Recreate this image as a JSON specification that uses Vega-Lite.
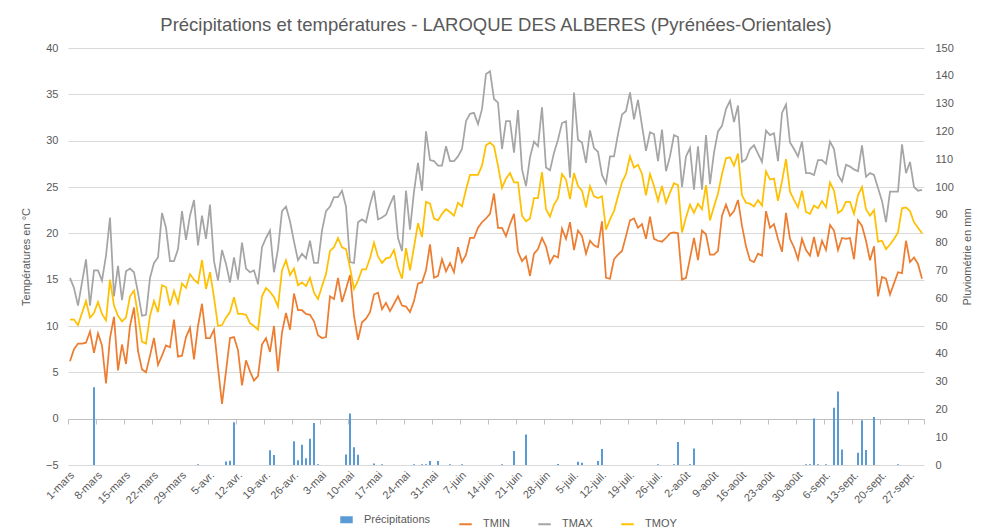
{
"$schema": "https://vega.github.io/schema/vega-lite/v6.json",
"width": 856, "height": 417,
"autosize": {"type": "none"},
"padding": {"left": 68, "top": 48, "right": 66, "bottom": 67},
"background": "white",
"title": {"text": "Précipitations et températures - LAROQUE DES ALBERES (Pyrénées-Orientales)", "fontSize": 18.5, "font": "Liberation Sans", "fontWeight": "normal", "color": "#595959", "offset": 8, "anchor": "middle"},
"config": {"font": "Liberation Sans", "view": {"stroke": null}, "axis": {"labelColor": "#595959", "titleColor": "#595959", "labelFontSize": 11, "titleFontSize": 11, "titleFontWeight": "normal", "labelFont": "Liberation Sans", "titleFont": "Liberation Sans"}, "legend": {"labelColor": "#595959", "labelFontSize": 11, "labelFont": "Liberation Sans"}},
"data": {"values": [
{"date":"2023-03-01","TMIN":6.2,"TMAX":15.2,"TMOY":10.7,"P":0},
{"date":"2023-03-02","TMIN":7.5,"TMAX":14.1,"TMOY":10.7,"P":0},
{"date":"2023-03-03","TMIN":8.1,"TMAX":12.2,"TMOY":10.1,"P":0},
{"date":"2023-03-04","TMIN":8.1,"TMAX":14.7,"TMOY":11.4,"P":0},
{"date":"2023-03-05","TMIN":8.2,"TMAX":17.2,"TMOY":12.7,"P":0},
{"date":"2023-03-06","TMIN":9.4,"TMAX":12.2,"TMOY":10.9,"P":0},
{"date":"2023-03-07","TMIN":7.1,"TMAX":16.0,"TMOY":11.4,"P":28},
{"date":"2023-03-08","TMIN":9.2,"TMAX":16.0,"TMOY":12.6,"P":0},
{"date":"2023-03-09","TMIN":7.9,"TMAX":14.9,"TMOY":11.3,"P":0},
{"date":"2023-03-10","TMIN":3.8,"TMAX":17.6,"TMOY":10.6,"P":0},
{"date":"2023-03-11","TMIN":8.7,"TMAX":21.7,"TMOY":15.0,"P":0},
{"date":"2023-03-12","TMIN":11.0,"TMAX":13.2,"TMOY":12.2,"P":0},
{"date":"2023-03-13","TMIN":5.2,"TMAX":16.5,"TMOY":11.1,"P":0},
{"date":"2023-03-14","TMIN":8.0,"TMAX":12.8,"TMOY":10.5,"P":0},
{"date":"2023-03-15","TMIN":5.9,"TMAX":15.9,"TMOY":10.9,"P":0},
{"date":"2023-03-16","TMIN":10.0,"TMAX":16.2,"TMOY":13.2,"P":0},
{"date":"2023-03-17","TMIN":12.0,"TMAX":15.8,"TMOY":13.8,"P":0},
{"date":"2023-03-18","TMIN":7.3,"TMAX":13.6,"TMOY":11.2,"P":0},
{"date":"2023-03-19","TMIN":5.3,"TMAX":11.1,"TMOY":8.3,"P":0},
{"date":"2023-03-20","TMIN":5.0,"TMAX":11.2,"TMOY":8.1,"P":0},
{"date":"2023-03-21","TMIN":6.8,"TMAX":15.2,"TMOY":11.1,"P":0},
{"date":"2023-03-22","TMIN":8.7,"TMAX":16.8,"TMOY":12.7,"P":0},
{"date":"2023-03-23","TMIN":5.8,"TMAX":17.4,"TMOY":11.5,"P":0},
{"date":"2023-03-24","TMIN":6.8,"TMAX":22.2,"TMOY":14.4,"P":0},
{"date":"2023-03-25","TMIN":7.9,"TMAX":20.6,"TMOY":14.2,"P":0},
{"date":"2023-03-26","TMIN":7.7,"TMAX":17.0,"TMOY":12.2,"P":0},
{"date":"2023-03-27","TMIN":10.7,"TMAX":17.0,"TMOY":13.8,"P":0},
{"date":"2023-03-28","TMIN":6.7,"TMAX":18.3,"TMOY":12.5,"P":0},
{"date":"2023-03-29","TMIN":6.8,"TMAX":22.4,"TMOY":14.6,"P":0},
{"date":"2023-03-30","TMIN":8.8,"TMAX":19.3,"TMOY":14.1,"P":0},
{"date":"2023-03-31","TMIN":9.8,"TMAX":21.9,"TMOY":15.6,"P":0},
{"date":"2023-04-01","TMIN":6.4,"TMAX":23.6,"TMOY":15.0,"P":0},
{"date":"2023-04-02","TMIN":10.0,"TMAX":18.7,"TMOY":14.6,"P":0.3},
{"date":"2023-04-03","TMIN":12.4,"TMAX":21.9,"TMOY":17.1,"P":0},
{"date":"2023-04-04","TMIN":8.7,"TMAX":19.4,"TMOY":14.0,"P":0},
{"date":"2023-04-05","TMIN":8.7,"TMAX":23.1,"TMOY":15.8,"P":0},
{"date":"2023-04-06","TMIN":9.6,"TMAX":17.0,"TMOY":13.1,"P":0},
{"date":"2023-04-07","TMIN":5.5,"TMAX":14.9,"TMOY":10.0,"P":0},
{"date":"2023-04-08","TMIN":1.6,"TMAX":18.2,"TMOY":10.1,"P":0},
{"date":"2023-04-09","TMIN":5.1,"TMAX":16.7,"TMOY":10.9,"P":1.3},
{"date":"2023-04-10","TMIN":8.7,"TMAX":14.7,"TMOY":11.5,"P":1.5},
{"date":"2023-04-11","TMIN":8.8,"TMAX":17.4,"TMOY":13.1,"P":15.4},
{"date":"2023-04-12","TMIN":7.4,"TMAX":15.0,"TMOY":11.3,"P":0},
{"date":"2023-04-13","TMIN":3.6,"TMAX":19.0,"TMOY":11.3,"P":0},
{"date":"2023-04-14","TMIN":6.3,"TMAX":16.2,"TMOY":11.2,"P":0},
{"date":"2023-04-15","TMIN":5.1,"TMAX":15.8,"TMOY":10.3,"P":0},
{"date":"2023-04-16","TMIN":4.1,"TMAX":16.0,"TMOY":10.0,"P":0},
{"date":"2023-04-17","TMIN":4.6,"TMAX":14.5,"TMOY":9.6,"P":0},
{"date":"2023-04-18","TMIN":8.0,"TMAX":18.5,"TMOY":13.2,"P":0},
{"date":"2023-04-19","TMIN":8.7,"TMAX":19.5,"TMOY":14.1,"P":0},
{"date":"2023-04-20","TMIN":7.2,"TMAX":20.3,"TMOY":13.7,"P":5.3},
{"date":"2023-04-21","TMIN":10.0,"TMAX":15.8,"TMOY":13.1,"P":3.6},
{"date":"2023-04-22","TMIN":5.1,"TMAX":18.3,"TMOY":12.1,"P":0},
{"date":"2023-04-23","TMIN":9.3,"TMAX":22.4,"TMOY":16.0,"P":0},
{"date":"2023-04-24","TMIN":11.4,"TMAX":22.9,"TMOY":17.1,"P":0},
{"date":"2023-04-25","TMIN":9.6,"TMAX":21.3,"TMOY":15.5,"P":0},
{"date":"2023-04-26","TMIN":13.5,"TMAX":19.1,"TMOY":16.2,"P":8.5},
{"date":"2023-04-27","TMIN":11.7,"TMAX":17.1,"TMOY":14.4,"P":1.7},
{"date":"2023-04-28","TMIN":11.7,"TMAX":17.8,"TMOY":14.7,"P":7.3},
{"date":"2023-04-29","TMIN":11.3,"TMAX":17.3,"TMOY":14.3,"P":2.4},
{"date":"2023-04-30","TMIN":11.2,"TMAX":19.2,"TMOY":15.2,"P":9.4},
{"date":"2023-05-01","TMIN":10.5,"TMAX":16.8,"TMOY":13.6,"P":15.1},
{"date":"2023-05-02","TMIN":9.0,"TMAX":16.8,"TMOY":12.9,"P":0.3},
{"date":"2023-05-03","TMIN":8.7,"TMAX":20.3,"TMOY":14.3,"P":0},
{"date":"2023-05-04","TMIN":8.8,"TMAX":22.4,"TMOY":15.6,"P":0},
{"date":"2023-05-05","TMIN":13.2,"TMAX":22.9,"TMOY":18.1,"P":0},
{"date":"2023-05-06","TMIN":12.9,"TMAX":23.9,"TMOY":18.5,"P":0},
{"date":"2023-05-07","TMIN":15.2,"TMAX":23.9,"TMOY":19.5,"P":0},
{"date":"2023-05-08","TMIN":12.6,"TMAX":24.6,"TMOY":18.5,"P":0},
{"date":"2023-05-09","TMIN":14.0,"TMAX":22.9,"TMOY":18.3,"P":3.8},
{"date":"2023-05-10","TMIN":15.5,"TMAX":16.9,"TMOY":16.3,"P":18.5},
{"date":"2023-05-11","TMIN":11.1,"TMAX":16.8,"TMOY":14.0,"P":6.4},
{"date":"2023-05-12","TMIN":8.5,"TMAX":21.2,"TMOY":14.9,"P":3.7},
{"date":"2023-05-13","TMIN":10.4,"TMAX":21.5,"TMOY":16.1,"P":0},
{"date":"2023-05-14","TMIN":10.8,"TMAX":21.2,"TMOY":16.1,"P":0},
{"date":"2023-05-15","TMIN":11.5,"TMAX":23.1,"TMOY":17.3,"P":0},
{"date":"2023-05-16","TMIN":13.4,"TMAX":24.6,"TMOY":19.0,"P":0.5},
{"date":"2023-05-17","TMIN":13.6,"TMAX":21.5,"TMOY":17.5,"P":0},
{"date":"2023-05-18","TMIN":11.8,"TMAX":21.7,"TMOY":16.8,"P":0.3},
{"date":"2023-05-19","TMIN":12.5,"TMAX":22.0,"TMOY":17.3,"P":0},
{"date":"2023-05-20","TMIN":11.6,"TMAX":23.1,"TMOY":17.4,"P":0},
{"date":"2023-05-21","TMIN":12.4,"TMAX":24.1,"TMOY":18.2,"P":0},
{"date":"2023-05-22","TMIN":13.2,"TMAX":19.5,"TMOY":16.3,"P":0},
{"date":"2023-05-23","TMIN":12.2,"TMAX":18.1,"TMOY":15.1,"P":0},
{"date":"2023-05-24","TMIN":12.1,"TMAX":24.6,"TMOY":18.4,"P":0},
{"date":"2023-05-25","TMIN":11.5,"TMAX":20.4,"TMOY":16.0,"P":0},
{"date":"2023-05-26","TMIN":12.7,"TMAX":24.5,"TMOY":18.5,"P":0.3},
{"date":"2023-05-27","TMIN":14.6,"TMAX":27.6,"TMOY":21.1,"P":0},
{"date":"2023-05-28","TMIN":14.7,"TMAX":24.6,"TMOY":19.6,"P":0.3},
{"date":"2023-05-29","TMIN":16.0,"TMAX":31.0,"TMOY":23.4,"P":0.3},
{"date":"2023-05-30","TMIN":18.8,"TMAX":27.9,"TMOY":23.2,"P":1.4},
{"date":"2023-05-31","TMIN":15.2,"TMAX":27.8,"TMOY":21.6,"P":0},
{"date":"2023-06-01","TMIN":15.4,"TMAX":27.3,"TMOY":21.4,"P":1.4},
{"date":"2023-06-02","TMIN":17.2,"TMAX":27.3,"TMOY":22.1,"P":0},
{"date":"2023-06-03","TMIN":15.9,"TMAX":29.4,"TMOY":22.6,"P":0},
{"date":"2023-06-04","TMIN":16.8,"TMAX":27.8,"TMOY":22.3,"P":0.3},
{"date":"2023-06-05","TMIN":15.8,"TMAX":27.8,"TMOY":21.9,"P":0},
{"date":"2023-06-06","TMIN":18.5,"TMAX":28.3,"TMOY":23.3,"P":0},
{"date":"2023-06-07","TMIN":16.9,"TMAX":29.1,"TMOY":22.9,"P":0.3},
{"date":"2023-06-08","TMIN":17.7,"TMAX":32.1,"TMOY":24.7,"P":0},
{"date":"2023-06-09","TMIN":19.5,"TMAX":32.9,"TMOY":26.3,"P":0},
{"date":"2023-06-10","TMIN":19.5,"TMAX":33.0,"TMOY":26.3,"P":0},
{"date":"2023-06-11","TMIN":20.6,"TMAX":31.8,"TMOY":26.3,"P":0},
{"date":"2023-06-12","TMIN":21.2,"TMAX":33.4,"TMOY":27.3,"P":0},
{"date":"2023-06-13","TMIN":21.6,"TMAX":37.2,"TMOY":29.5,"P":0},
{"date":"2023-06-14","TMIN":22.1,"TMAX":37.5,"TMOY":29.8,"P":0},
{"date":"2023-06-15","TMIN":24.3,"TMAX":34.5,"TMOY":29.4,"P":0},
{"date":"2023-06-16","TMIN":20.6,"TMAX":34.1,"TMOY":27.3,"P":0},
{"date":"2023-06-17","TMIN":20.6,"TMAX":29.1,"TMOY":24.9,"P":0.3},
{"date":"2023-06-18","TMIN":19.7,"TMAX":32.1,"TMOY":25.9,"P":0},
{"date":"2023-06-19","TMIN":21.0,"TMAX":32.1,"TMOY":26.5,"P":0},
{"date":"2023-06-20","TMIN":22.1,"TMAX":28.7,"TMOY":25.5,"P":5.0},
{"date":"2023-06-21","TMIN":18.0,"TMAX":33.3,"TMOY":25.5,"P":0},
{"date":"2023-06-22","TMIN":17.0,"TMAX":26.9,"TMOY":21.9,"P":0},
{"date":"2023-06-23","TMIN":17.5,"TMAX":25.1,"TMOY":21.3,"P":11.0},
{"date":"2023-06-24","TMIN":15.4,"TMAX":28.2,"TMOY":21.6,"P":0},
{"date":"2023-06-25","TMIN":17.8,"TMAX":29.9,"TMOY":23.8,"P":0},
{"date":"2023-06-26","TMIN":18.3,"TMAX":29.4,"TMOY":23.8,"P":0},
{"date":"2023-06-27","TMIN":19.5,"TMAX":33.6,"TMOY":26.6,"P":0},
{"date":"2023-06-28","TMIN":18.6,"TMAX":27.1,"TMOY":22.6,"P":0},
{"date":"2023-06-29","TMIN":16.8,"TMAX":26.8,"TMOY":21.8,"P":0},
{"date":"2023-06-30","TMIN":17.6,"TMAX":28.7,"TMOY":23.1,"P":0},
{"date":"2023-07-01","TMIN":17.4,"TMAX":30.1,"TMOY":23.8,"P":0.4},
{"date":"2023-07-02","TMIN":20.5,"TMAX":31.9,"TMOY":26.4,"P":0},
{"date":"2023-07-03","TMIN":19.4,"TMAX":32.1,"TMOY":25.8,"P":0},
{"date":"2023-07-04","TMIN":21.2,"TMAX":26.0,"TMOY":23.7,"P":0},
{"date":"2023-07-05","TMIN":18.2,"TMAX":35.2,"TMOY":26.5,"P":0},
{"date":"2023-07-06","TMIN":20.3,"TMAX":30.1,"TMOY":25.1,"P":1.2},
{"date":"2023-07-07","TMIN":19.7,"TMAX":29.8,"TMOY":24.6,"P":0.8},
{"date":"2023-07-08","TMIN":17.8,"TMAX":27.6,"TMOY":22.8,"P":0},
{"date":"2023-07-09","TMIN":19.2,"TMAX":31.1,"TMOY":25.1,"P":0},
{"date":"2023-07-10","TMIN":18.7,"TMAX":29.2,"TMOY":24.0,"P":0},
{"date":"2023-07-11","TMIN":18.5,"TMAX":28.8,"TMOY":23.8,"P":1.4},
{"date":"2023-07-12","TMIN":21.3,"TMAX":26.3,"TMOY":24.0,"P":5.8},
{"date":"2023-07-13","TMIN":15.2,"TMAX":25.4,"TMOY":20.4,"P":0},
{"date":"2023-07-14","TMIN":15.1,"TMAX":28.3,"TMOY":21.5,"P":0},
{"date":"2023-07-15","TMIN":17.2,"TMAX":28.3,"TMOY":22.4,"P":0},
{"date":"2023-07-16","TMIN":17.7,"TMAX":30.7,"TMOY":24.0,"P":0},
{"date":"2023-07-17","TMIN":18.1,"TMAX":32.8,"TMOY":25.5,"P":0},
{"date":"2023-07-18","TMIN":19.7,"TMAX":33.2,"TMOY":26.4,"P":0},
{"date":"2023-07-19","TMIN":21.4,"TMAX":35.2,"TMOY":28.3,"P":0},
{"date":"2023-07-20","TMIN":21.6,"TMAX":32.3,"TMOY":27.1,"P":0},
{"date":"2023-07-21","TMIN":20.6,"TMAX":34.4,"TMOY":27.4,"P":0},
{"date":"2023-07-22","TMIN":21.0,"TMAX":31.6,"TMOY":26.4,"P":0},
{"date":"2023-07-23","TMIN":19.4,"TMAX":28.9,"TMOY":24.1,"P":0},
{"date":"2023-07-24","TMIN":21.8,"TMAX":30.9,"TMOY":26.4,"P":0},
{"date":"2023-07-25","TMIN":19.4,"TMAX":30.7,"TMOY":25.1,"P":0},
{"date":"2023-07-26","TMIN":19.2,"TMAX":27.8,"TMOY":23.5,"P":0.3},
{"date":"2023-07-27","TMIN":19.1,"TMAX":31.2,"TMOY":25.1,"P":0},
{"date":"2023-07-28","TMIN":19.5,"TMAX":26.7,"TMOY":23.3,"P":0},
{"date":"2023-07-29","TMIN":20.0,"TMAX":28.3,"TMOY":24.4,"P":0},
{"date":"2023-07-30","TMIN":20.1,"TMAX":30.6,"TMOY":25.4,"P":0.3},
{"date":"2023-07-31","TMIN":20.0,"TMAX":30.4,"TMOY":25.2,"P":8.3},
{"date":"2023-08-01","TMIN":15.0,"TMAX":25.0,"TMOY":20.1,"P":0},
{"date":"2023-08-02","TMIN":15.2,"TMAX":28.3,"TMOY":21.7,"P":0},
{"date":"2023-08-03","TMIN":17.3,"TMAX":29.2,"TMOY":23.1,"P":0.3},
{"date":"2023-08-04","TMIN":19.5,"TMAX":24.7,"TMOY":22.2,"P":5.9},
{"date":"2023-08-05","TMIN":17.1,"TMAX":29.4,"TMOY":23.2,"P":0},
{"date":"2023-08-06","TMIN":20.3,"TMAX":24.7,"TMOY":22.6,"P":0},
{"date":"2023-08-07","TMIN":19.9,"TMAX":30.6,"TMOY":25.2,"P":0},
{"date":"2023-08-08","TMIN":17.7,"TMAX":25.3,"TMOY":21.4,"P":0},
{"date":"2023-08-09","TMIN":17.7,"TMAX":28.7,"TMOY":22.9,"P":0},
{"date":"2023-08-10","TMIN":18.1,"TMAX":31.0,"TMOY":24.3,"P":0},
{"date":"2023-08-11","TMIN":21.9,"TMAX":31.6,"TMOY":26.4,"P":0},
{"date":"2023-08-12","TMIN":23.1,"TMAX":33.4,"TMOY":28.1,"P":0},
{"date":"2023-08-13","TMIN":21.9,"TMAX":34.3,"TMOY":28.2,"P":0},
{"date":"2023-08-14","TMIN":22.4,"TMAX":32.0,"TMOY":27.3,"P":0},
{"date":"2023-08-15","TMIN":23.6,"TMAX":33.8,"TMOY":28.6,"P":0},
{"date":"2023-08-16","TMIN":20.8,"TMAX":27.7,"TMOY":24.1,"P":0},
{"date":"2023-08-17","TMIN":18.6,"TMAX":28.0,"TMOY":23.3,"P":0},
{"date":"2023-08-18","TMIN":17.1,"TMAX":29.1,"TMOY":23.2,"P":0},
{"date":"2023-08-19","TMIN":16.9,"TMAX":29.5,"TMOY":22.9,"P":0},
{"date":"2023-08-20","TMIN":17.8,"TMAX":28.6,"TMOY":23.6,"P":0},
{"date":"2023-08-21","TMIN":17.6,"TMAX":27.7,"TMOY":23.0,"P":0},
{"date":"2023-08-22","TMIN":22.4,"TMAX":31.1,"TMOY":26.7,"P":0},
{"date":"2023-08-23","TMIN":20.6,"TMAX":30.6,"TMOY":25.8,"P":0},
{"date":"2023-08-24","TMIN":21.0,"TMAX":30.8,"TMOY":25.9,"P":0},
{"date":"2023-08-25","TMIN":19.4,"TMAX":27.8,"TMOY":23.5,"P":0},
{"date":"2023-08-26","TMIN":18.0,"TMAX":33.0,"TMOY":25.6,"P":0},
{"date":"2023-08-27","TMIN":22.2,"TMAX":33.9,"TMOY":28.0,"P":0},
{"date":"2023-08-28","TMIN":19.4,"TMAX":29.8,"TMOY":24.5,"P":0},
{"date":"2023-08-29","TMIN":18.5,"TMAX":29.1,"TMOY":23.6,"P":0},
{"date":"2023-08-30","TMIN":17.2,"TMAX":28.3,"TMOY":22.8,"P":0},
{"date":"2023-08-31","TMIN":19.4,"TMAX":29.9,"TMOY":24.6,"P":0},
{"date":"2023-09-01","TMIN":18.2,"TMAX":26.5,"TMOY":22.3,"P":0.3},
{"date":"2023-09-02","TMIN":17.6,"TMAX":26.5,"TMOY":22.1,"P":0.3},
{"date":"2023-09-03","TMIN":19.6,"TMAX":26.3,"TMOY":23.0,"P":16.7},
{"date":"2023-09-04","TMIN":17.5,"TMAX":27.9,"TMOY":22.7,"P":0.3},
{"date":"2023-09-05","TMIN":19.2,"TMAX":27.9,"TMOY":23.5,"P":0},
{"date":"2023-09-06","TMIN":18.2,"TMAX":27.5,"TMOY":22.8,"P":0.3},
{"date":"2023-09-07","TMIN":20.9,"TMAX":29.9,"TMOY":25.5,"P":0},
{"date":"2023-09-08","TMIN":20.3,"TMAX":29.1,"TMOY":24.6,"P":20.6},
{"date":"2023-09-09","TMIN":18.2,"TMAX":26.3,"TMOY":22.2,"P":26.4},
{"date":"2023-09-10","TMIN":19.5,"TMAX":25.6,"TMOY":22.5,"P":5.6},
{"date":"2023-09-11","TMIN":19.4,"TMAX":27.4,"TMOY":23.4,"P":0},
{"date":"2023-09-12","TMIN":19.5,"TMAX":27.2,"TMOY":23.4,"P":0},
{"date":"2023-09-13","TMIN":17.2,"TMAX":26.9,"TMOY":22.1,"P":0},
{"date":"2023-09-14","TMIN":21.4,"TMAX":26.7,"TMOY":24.1,"P":4.4},
{"date":"2023-09-15","TMIN":20.8,"TMAX":29.5,"TMOY":25.0,"P":16.1},
{"date":"2023-09-16","TMIN":19.2,"TMAX":26.1,"TMOY":22.6,"P":5.4},
{"date":"2023-09-17","TMIN":17.1,"TMAX":26.5,"TMOY":21.9,"P":0},
{"date":"2023-09-18","TMIN":18.6,"TMAX":26.3,"TMOY":22.5,"P":17.3},
{"date":"2023-09-19","TMIN":13.2,"TMAX":24.9,"TMOY":19.1,"P":0},
{"date":"2023-09-20","TMIN":15.3,"TMAX":23.5,"TMOY":19.2,"P":0},
{"date":"2023-09-21","TMIN":15.1,"TMAX":21.2,"TMOY":18.3,"P":0},
{"date":"2023-09-22","TMIN":13.4,"TMAX":24.5,"TMOY":18.8,"P":0},
{"date":"2023-09-23","TMIN":14.6,"TMAX":24.5,"TMOY":19.4,"P":0},
{"date":"2023-09-24","TMIN":15.8,"TMAX":24.5,"TMOY":20.1,"P":0.3},
{"date":"2023-09-25","TMIN":15.7,"TMAX":29.6,"TMOY":22.7,"P":0},
{"date":"2023-09-26","TMIN":19.2,"TMAX":26.5,"TMOY":22.8,"P":0},
{"date":"2023-09-27","TMIN":16.9,"TMAX":27.7,"TMOY":22.4,"P":0},
{"date":"2023-09-28","TMIN":17.4,"TMAX":25.0,"TMOY":21.2,"P":0},
{"date":"2023-09-29","TMIN":16.7,"TMAX":24.6,"TMOY":20.6,"P":0},
{"date":"2023-09-30","TMIN":15.1,"TMAX":24.7,"TMOY":20.0,"P":0}
]},
"layer": [
{
"transform": [{"fold": ["P"], "as": ["serie", "pval"]}, {"filter": "datum.pval > 0"}],
"mark": {"type": "rule", "strokeWidth": 2},
"encoding": {
"x": {"field": "date", "type": "temporal", "timeUnit": "utcyearmonthdate", "bandPosition": 0.5,
"scale": {"type": "utc", "domain": [{"year": 2023, "month": 3, "date": 1, "utc": true}, {"year": 2023, "month": 10, "date": 1, "utc": true}]},
"axis": {"orient": "bottom", "offset": -46, "labels": false, "title": null, "grid": false, "domain": true, "domainColor": "#bfbfbf", "ticks": true, "tickColor": "#bfbfbf", "tickSize": 5,
"values": [{"year":2023,"month":3,"date":1,"utc":true},{"year":2023,"month":3,"date":8,"utc":true},{"year":2023,"month":3,"date":15,"utc":true},{"year":2023,"month":3,"date":22,"utc":true},{"year":2023,"month":3,"date":29,"utc":true},{"year":2023,"month":4,"date":5,"utc":true},{"year":2023,"month":4,"date":12,"utc":true},{"year":2023,"month":4,"date":19,"utc":true},{"year":2023,"month":4,"date":26,"utc":true},{"year":2023,"month":5,"date":3,"utc":true},{"year":2023,"month":5,"date":10,"utc":true},{"year":2023,"month":5,"date":17,"utc":true},{"year":2023,"month":5,"date":24,"utc":true},{"year":2023,"month":5,"date":31,"utc":true},{"year":2023,"month":6,"date":7,"utc":true},{"year":2023,"month":6,"date":14,"utc":true},{"year":2023,"month":6,"date":21,"utc":true},{"year":2023,"month":6,"date":28,"utc":true},{"year":2023,"month":7,"date":5,"utc":true},{"year":2023,"month":7,"date":12,"utc":true},{"year":2023,"month":7,"date":19,"utc":true},{"year":2023,"month":7,"date":26,"utc":true},{"year":2023,"month":8,"date":2,"utc":true},{"year":2023,"month":8,"date":9,"utc":true},{"year":2023,"month":8,"date":16,"utc":true},{"year":2023,"month":8,"date":23,"utc":true},{"year":2023,"month":8,"date":30,"utc":true},{"year":2023,"month":9,"date":6,"utc":true},{"year":2023,"month":9,"date":13,"utc":true},{"year":2023,"month":9,"date":20,"utc":true},{"year":2023,"month":9,"date":27,"utc":true},{"year":2023,"month":10,"date":1,"utc":true}]}},
"y": {"field": "pval", "type": "quantitative", "scale": {"domain": [0, 150]},
"axis": {"orient": "right", "title": "Pluviométrie en mm", "titleAngle": -90, "values": [0,10,20,30,40,50,60,70,80,90,100,110,120,130,140,150], "grid": false, "domain": false, "ticks": false, "labelPadding": 11, "titlePadding": 19}},
"y2": {"datum": 0},
"color": {"field": "serie", "type": "nominal",
"scale": {"domain": ["P", "TMIN", "TMAX", "TMOY"], "range": ["#5B9BD5", "#ED7D31", "#A5A5A5", "#FFC000"]},
"legend": {"title": null, "orient": "none", "legendX": 273, "legendY": 466, "direction": "horizontal", "symbolType": "stroke", "symbolSize": 156, "symbolStrokeWidth": 2, "labelOffset": 12, "columnPadding": 24,
"labelExpr": "datum.value === 'P' ? 'Précipitations' : datum.label",
"encode": {"symbols": {"update": {"strokeWidth": {"signal": "datum.value === 'P' ? 7 : 2"}}}}}}
}
},
{
"transform": [{"fold": ["TMIN", "TMAX", "TMOY"], "as": ["serie", "val"]}],
"mark": {"type": "line", "strokeWidth": 1.75},
"encoding": {
"x": {"field": "date", "type": "temporal", "timeUnit": "utcyearmonthdate", "bandPosition": 0.5,
"axis": {"orient": "bottom", "title": null, "grid": false, "domain": false, "ticks": false, "labelAngle": -45, "labelPadding": 4, "labelOverlap": false,
"labelExpr": "utcFormat(datum.value, '%-d') + '-' + ['janv.','févr.','mars','avr.','mai','juin','juil.','août','sept.','oct.','nov.','déc.'][utcmonth(datum.value)]",
"values": [{"year":2023,"month":3,"date":1,"utc":true},{"year":2023,"month":3,"date":8,"utc":true},{"year":2023,"month":3,"date":15,"utc":true},{"year":2023,"month":3,"date":22,"utc":true},{"year":2023,"month":3,"date":29,"utc":true},{"year":2023,"month":4,"date":5,"utc":true},{"year":2023,"month":4,"date":12,"utc":true},{"year":2023,"month":4,"date":19,"utc":true},{"year":2023,"month":4,"date":26,"utc":true},{"year":2023,"month":5,"date":3,"utc":true},{"year":2023,"month":5,"date":10,"utc":true},{"year":2023,"month":5,"date":17,"utc":true},{"year":2023,"month":5,"date":24,"utc":true},{"year":2023,"month":5,"date":31,"utc":true},{"year":2023,"month":6,"date":7,"utc":true},{"year":2023,"month":6,"date":14,"utc":true},{"year":2023,"month":6,"date":21,"utc":true},{"year":2023,"month":6,"date":28,"utc":true},{"year":2023,"month":7,"date":5,"utc":true},{"year":2023,"month":7,"date":12,"utc":true},{"year":2023,"month":7,"date":19,"utc":true},{"year":2023,"month":7,"date":26,"utc":true},{"year":2023,"month":8,"date":2,"utc":true},{"year":2023,"month":8,"date":9,"utc":true},{"year":2023,"month":8,"date":16,"utc":true},{"year":2023,"month":8,"date":23,"utc":true},{"year":2023,"month":8,"date":30,"utc":true},{"year":2023,"month":9,"date":6,"utc":true},{"year":2023,"month":9,"date":13,"utc":true},{"year":2023,"month":9,"date":20,"utc":true},{"year":2023,"month":9,"date":27,"utc":true}]}},
"y": {"field": "val", "type": "quantitative", "scale": {"domain": [-5, 40]},
"axis": {"orient": "left", "title": "Températures en °C", "values": [-5,0,5,10,15,20,25,30,35,40], "grid": true, "gridColor": "#d9d9d9", "domain": false, "ticks": false, "labelPadding": 10, "titlePadding": 14}},
"color": {"field": "serie", "type": "nominal",
"legend": {"title": null, "orient": "none", "legendX": 273, "legendY": 466, "direction": "horizontal", "symbolType": "stroke", "symbolSize": 156, "symbolStrokeWidth": 2, "labelOffset": 12, "columnPadding": 24,
"labelExpr": "datum.value === 'P' ? 'Précipitations' : datum.label",
"encode": {"symbols": {"update": {"strokeWidth": {"signal": "datum.value === 'P' ? 7 : 2"}}}}}}
}
}
],
"resolve": {"scale": {"y": "independent"}, "axis": {"x": "independent"}}
}
